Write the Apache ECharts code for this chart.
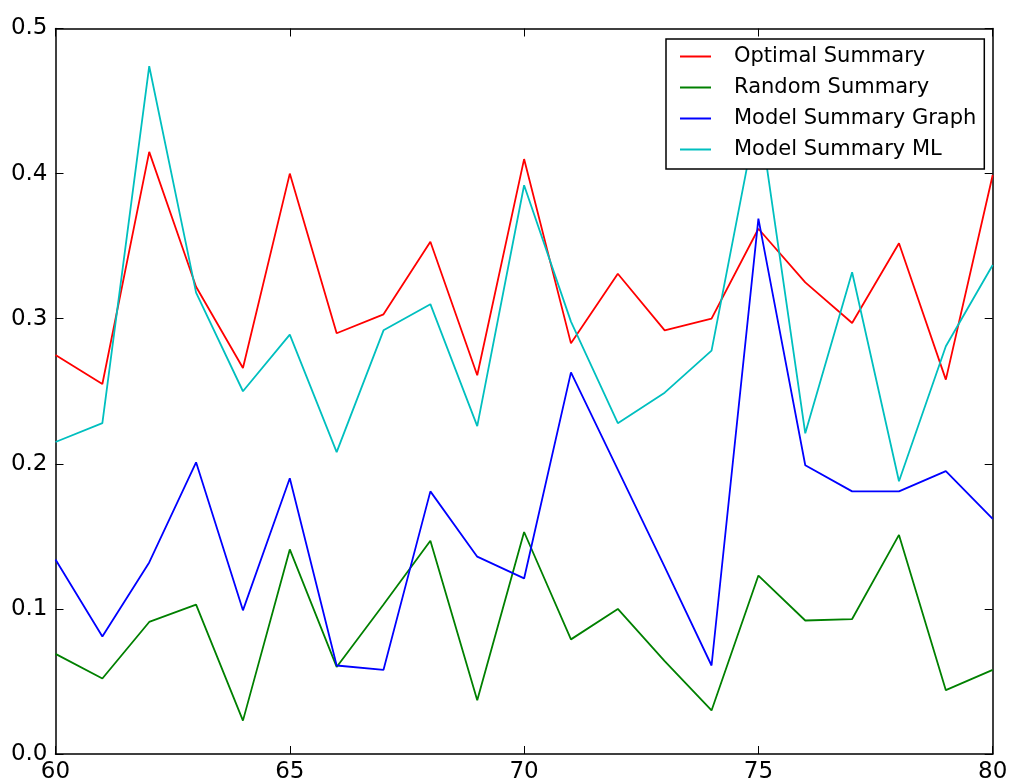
<!DOCTYPE html>
<html>
<head>
<meta charset="utf-8">
<title>Summary scores</title>
<script src="https://cdn.jsdelivr.net/npm/echarts@6/dist/echarts.min.js"></script>
<style>
    html, body { margin: 0; padding: 0; background: #fff; }
    #main { width: 1011px; height: 783px; }
</style>
</head>
<body>
<div id="main"></div>
<script>
// x positions 60..80
var xValues = [60, 61, 62, 63, 64, 65, 66, 67, 68, 69, 70, 71, 72, 73, 74, 75, 76, 77, 78, 79, 80];

var optimalSummary = [0.275, 0.255, 0.415, 0.322, 0.266, 0.400, 0.290, 0.303, 0.353, 0.261, 0.410,
    0.283, 0.331, 0.292, 0.300, 0.362, 0.325, 0.297, 0.352, 0.258, 0.399];
var randomSummary = [0.069, 0.052, 0.091, 0.103, 0.023, 0.141, 0.060, 0.103, 0.147, 0.037, 0.153,
    0.079, 0.100, 0.064, 0.030, 0.123, 0.092, 0.093, 0.151, 0.044, 0.058];
var modelSummaryGraph = [0.134, 0.081, 0.132, 0.201, 0.099, 0.190, 0.061, 0.058, 0.181, 0.136, 0.121,
    0.263, 0.196, 0.129, 0.061, 0.369, 0.199, 0.181, 0.181, 0.195, 0.162];
var modelSummaryML = [0.215, 0.228, 0.474, 0.318, 0.250, 0.289, 0.208, 0.292, 0.310, 0.226, 0.392,
    0.298, 0.228, 0.249, 0.278, 0.445, 0.221, 0.332, 0.188, 0.281, 0.337];

var seriesNames = ['Optimal Summary', 'Random Summary', 'Model Summary Graph', 'Model Summary ML'];
var seriesColors = ['#ff0000', '#008000', '#0000ff', '#00bfbf'];

var xTicks = [60, 65, 70, 75, 80];
var yTicks = [0.0, 0.1, 0.2, 0.3, 0.4, 0.5];

var FONT = 'DejaVu Sans';

function pairs(ys) {
    var out = [];
    for (var i = 0; i < xValues.length; i++) {
        out.push([xValues[i], ys[i]]);
    }
    return out;
}

// one axis side; labels only on bottom / left
function axisSide(kind, pos, showLabel) {
    var isX = kind === 'x';
    return {
        type: 'value',
        position: pos,
        min: isX ? xTicks[0] : yTicks[0],
        max: isX ? xTicks[xTicks.length - 1] : yTicks[yTicks.length - 1],
        interval: isX ? 5 : 0.1,
        splitLine: {show: false},
        axisLine: {show: true, onZero: false, lineStyle: {color: '#000', width: 1.5}},
        axisTick: {show: true, inside: true, length: 8, lineStyle: {color: '#000', width: 1}},
        axisLabel: {
            show: showLabel,
            color: '#000',
            fontFamily: FONT,
            fontSize: 23,
            margin: isX ? 7 : 8,
            formatter: function (v) {
                return isX ? String(v) : v.toFixed(1);
            }
        }
    };
}

var data = [optimalSummary, randomSummary, modelSummaryGraph, modelSummaryML];
var series = [];
for (var k = 0; k < data.length; k++) {
    series.push({
        name: seriesNames[k],
        type: 'line',
        symbol: 'none',
        animation: false,
        data: pairs(data[k]),
        itemStyle: {color: seriesColors[k]},
        lineStyle: {color: seriesColors[k], width: 1.8}
    });
}

var chart = echarts.init(document.getElementById('main'));
chart.setOption({
    backgroundColor: '#fff',
    animation: false,
    grid: {left: 55.5, right: 18.3, top: 28.5, bottom: 29, outerBoundsMode: 'none'},
    xAxis: [axisSide('x', 'bottom', true), axisSide('x', 'top', false)],
    yAxis: [axisSide('y', 'left', true), axisSide('y', 'right', false)],
    legend: {
        orient: 'vertical',
        left: 666,
        top: 39,
        padding: [7, 8, 9, 14],
        itemGap: 10,
        itemWidth: 31,
        itemHeight: 2,
        icon: 'rect',
        backgroundColor: '#fff',
        borderColor: '#000',
        borderWidth: 1.5,
        borderRadius: 0,
        data: seriesNames,
        textStyle: {
            color: '#000',
            fontFamily: FONT,
            fontSize: 21,
            lineHeight: 21,
            padding: [0, 0, 0, 18]
        }
    },
    series: series
});
</script>
</body>
</html>
